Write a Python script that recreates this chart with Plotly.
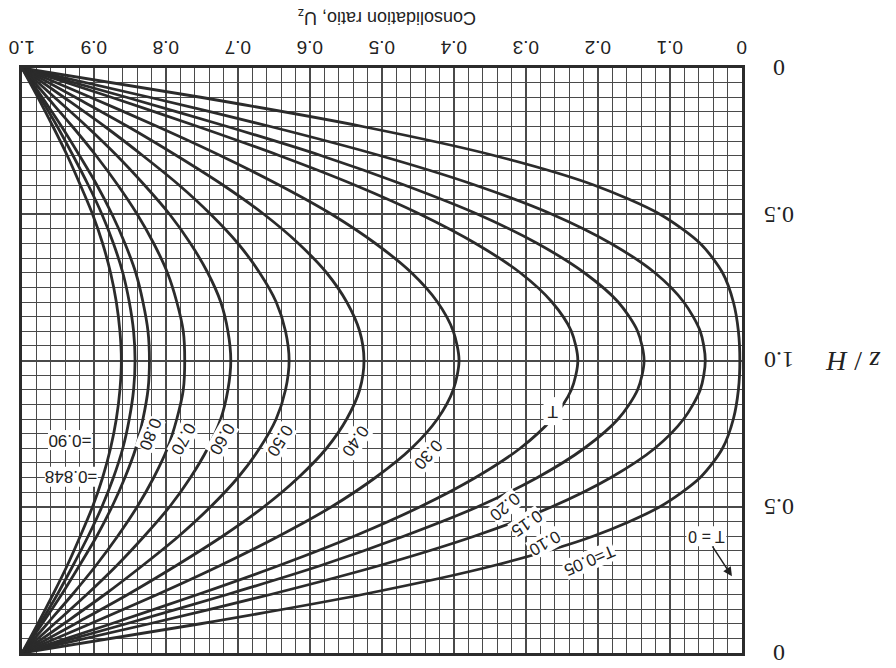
import plotly.graph_objects as go

# Depth ratio z/H (top half, curves are symmetric about z/H = 1)
z_half = [0.0, 0.1, 0.2, 0.3, 0.4, 0.5, 0.6, 0.7, 0.8, 0.9, 1.0]

# Consolidation ratio U_z read along each isochrone (z/H = 0 ... 1.0)
T_labels = ["0.05", "0.10", "0.15", "0.20", "0.30", "0.40", "0.50",
            "0.60", "0.70", "0.80", "0.848", "0.90"]
U_half = {
    "0.05":  [1.0, 0.752, 0.527, 0.343, 0.206, 0.114, 0.058, 0.027, 0.012, 0.005, 0.003],
    "0.10":  [1.0, 0.823, 0.655, 0.502, 0.371, 0.264, 0.182, 0.121, 0.081, 0.058, 0.051],
    "0.15":  [1.0, 0.855, 0.715, 0.584, 0.469, 0.367, 0.284, 0.219, 0.172, 0.145, 0.136],
    "0.20":  [1.0, 0.876, 0.756, 0.642, 0.538, 0.447, 0.370, 0.308, 0.264, 0.237, 0.228],
    "0.30":  [1.0, 0.905, 0.812, 0.724, 0.643, 0.570, 0.509, 0.459, 0.423, 0.401, 0.393],
    "0.40":  [1.0, 0.926, 0.853, 0.785, 0.721, 0.664, 0.616, 0.577, 0.549, 0.531, 0.525],
    "0.50":  [1.0, 0.942, 0.885, 0.832, 0.782, 0.738, 0.700, 0.670, 0.647, 0.634, 0.629],
    "0.60":  [1.0, 0.955, 0.910, 0.868, 0.830, 0.795, 0.766, 0.742, 0.724, 0.714, 0.710],
    "0.70":  [1.0, 0.965, 0.930, 0.897, 0.867, 0.840, 0.817, 0.798, 0.785, 0.776, 0.774],
    "0.80":  [1.0, 0.972, 0.945, 0.920, 0.896, 0.875, 0.857, 0.842, 0.832, 0.825, 0.823],
    "0.848": [1.0, 0.975, 0.951, 0.929, 0.908, 0.889, 0.873, 0.860, 0.851, 0.845, 0.843],
    "0.90":  [1.0, 0.978, 0.957, 0.937, 0.919, 0.902, 0.888, 0.877, 0.869, 0.864, 0.862],
}

x_tickvals = [1.0, 0.9, 0.8, 0.7, 0.6, 0.5, 0.4, 0.3, 0.2, 0.1, 0.0]
x_ticktext = ["1.0", "0.9", "0.8", "0.7", "0.6", "0.5", "0.4", "0.3", "0.2", "0.1", "0"]
y_tickvals = [0.0, 0.5, 1.0, 1.5, 2.0]
y_ticktext = ["0", "0.5", "1.0", "0.5", "0"]

# curve labels: text, U position, z/H position, angle
label_text = ["T=0.05", "0.10", "0.15", "0.20", "0.30", "0.40", "0.50", "0.60", "0.70", "0.80"]
label_u = [0.211, 0.274, 0.299, 0.329, 0.436, 0.537, 0.642, 0.722, 0.776, 0.822]
label_z = [1.683, 1.625, 1.557, 1.499, 1.319, 1.274, 1.274, 1.267, 1.267, 1.250]
label_ang = [157, 150, 145, 140, 132, 125, 122, 120, 118, 112]

INK = "#2b2b2b"
GRID = "#4a4a4a"
L, R, T, B = 22, 154, 68, 13
W, H = 896, 668
pw, ph = W - L - R, H - T - B

fig = go.Figure()
for t in T_labels:
    half = U_half[t]
    u_full = half + half[-2::-1]
    z_full = z_half + [round(2.0 - z, 2) for z in z_half[-2::-1]]
    fig.add_trace(go.Scatter(x=u_full, y=z_full, mode="lines", name="T=" + t,
                             line=dict(color=INK, width=2.8, shape="spline", smoothing=0.8),
                             showlegend=False, hoverinfo="skip"))

annotations = []
# top tick labels (upside down)
for v, s in zip(x_tickvals, x_ticktext):
    annotations.append(dict(x=v, y=1 + (68 - 48) / ph, xref="x", yref="paper", text=s,
                            showarrow=False, textangle=180, xanchor="center", yanchor="middle",
                            font=dict(family="Liberation Sans", size=19, color="#222")))
# right tick labels (upside down)
for v, s in zip(y_tickvals, y_ticktext):
    annotations.append(dict(x=(779 - L) / pw, y=v, xref="paper", yref="y", text=s,
                            showarrow=False, textangle=180, xanchor="center", yanchor="middle",
                            font=dict(family="Liberation Serif", size=24, color="#222")))

for txt, u, z, a in zip(label_text, label_u, label_z, label_ang):
    annotations.append(dict(x=u, y=z, xref="x", yref="y", text=txt, showarrow=False,
                            textangle=a, bgcolor="white", borderpad=0,
                            font=dict(family="Liberation Sans", size=17, color="#222")))
for txt, u, z in [("=0.90", 0.933, 1.271), ("=0.848", 0.931, 1.397)]:
    annotations.append(dict(x=u, y=z, xref="x", yref="y", text=txt, showarrow=False,
                            textangle=180, bgcolor="white", borderpad=0,
                            font=dict(family="Liberation Sans", size=17, color="#222")))
annotations.append(dict(x=0.2625, y=1.172, xref="x", yref="y", text="T", showarrow=False,
                        textangle=180, bgcolor="white", borderpad=4,
                        font=dict(family="Liberation Sans", size=17, color="#222")))
annotations.append(dict(x=0.014, y=1.738, xref="x", yref="y", text="T = 0", showarrow=True,
                        ax=-26, ay=-40, textangle=180, arrowhead=2, arrowsize=1.2,
                        arrowwidth=1.5, arrowcolor="#222", bgcolor="white",
                        font=dict(family="Liberation Sans", size=16, color="#222")))
annotations.append(dict(x=(387 - L) / pw, y=1 + (68 - 17) / ph, xref="paper", yref="paper",
                        text="Consolidation ratio, U<sub>z</sub>", showarrow=False, textangle=180,
                        xanchor="center", yanchor="middle",
                        font=dict(family="Liberation Sans", size=18, color="#222")))
annotations.append(dict(x=(853 - L) / pw, y=1 - (362 - 68) / ph, xref="paper", yref="paper",
                        text="<i>z</i> / <i>H</i>", showarrow=False, textangle=180,
                        xanchor="center", yanchor="middle",
                        font=dict(family="Liberation Serif", size=28, color="#222")))

fig.update_layout(
    width=W, height=H,
    margin=dict(l=L, r=R, t=T, b=B),
    paper_bgcolor="white", plot_bgcolor="white",
    annotations=annotations,
    xaxis=dict(range=[1.0, 0.0], side="top", tickmode="array", tickvals=x_tickvals,
               showticklabels=False, ticks="",
               showgrid=True, gridcolor=GRID, gridwidth=1.6,
               minor=dict(tickmode="linear", tick0=0, dtick=0.02, showgrid=True,
                          gridcolor=GRID, gridwidth=1.4),
               showline=True, linecolor=INK, linewidth=2.5, mirror=True, zeroline=False),
    yaxis=dict(range=[2.0, 0.0], side="right", tickmode="array", tickvals=y_tickvals,
               showticklabels=False, ticks="",
               showgrid=True, gridcolor=GRID, gridwidth=1.6,
               minor=dict(tickmode="linear", tick0=0, dtick=0.05, showgrid=True,
                          gridcolor=GRID, gridwidth=1.4),
               showline=True, linecolor=INK, linewidth=2.5, mirror=True, zeroline=False),
)

fig.write_html("out.html")
